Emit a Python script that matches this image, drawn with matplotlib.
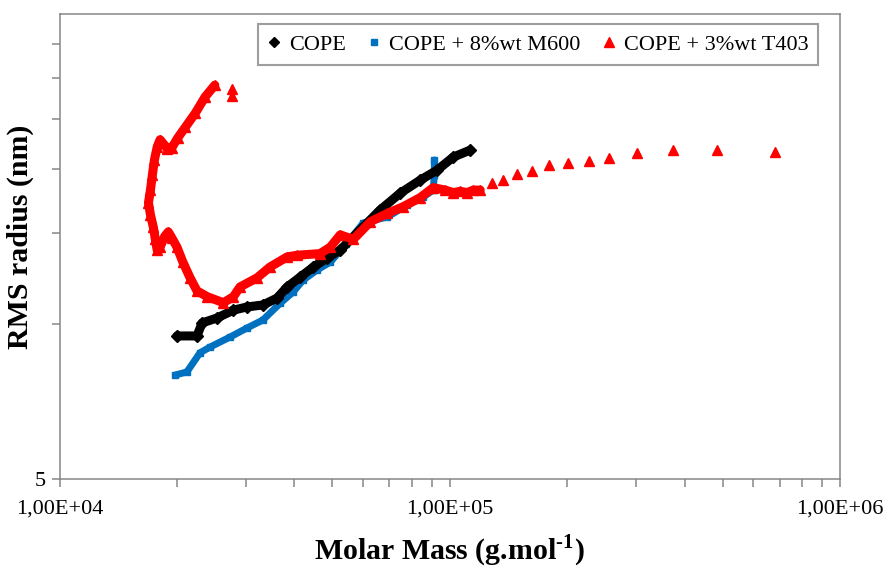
import matplotlib
matplotlib.use("Agg")
import matplotlib.pyplot as plt
from matplotlib.lines import Line2D
from matplotlib.ticker import LogLocator, NullFormatter, FixedLocator, FixedFormatter

plt.rcParams['font.family'] = ['Liberation Serif', 'DejaVu Serif']
plt.rcParams['mathtext.fontset'] = 'custom'
plt.rcParams['mathtext.rm'] = 'Liberation Serif:bold'
plt.rcParams['mathtext.bf'] = 'Liberation Serif:bold'

# ---------------- data ----------------
cope_M = [20000, 22500, 23200, 25300, 27900, 30200, 33200, 36100, 38300, 41400,
          44700, 48500, 52400, 58900, 66300, 74700, 84000, 92900, 102100, 112900]
cope_R = [9.48, 9.48, 10.05, 10.27, 10.64, 10.79, 10.89, 11.23, 11.80, 12.34,
          12.90, 13.43, 13.92, 15.22, 16.65, 17.96, 19.03, 19.91, 21.10, 21.77]

m600_M = [19800, 21200, 22900, 24300, 27400, 30200, 33200, 36800, 39700, 42100,
          45700, 49400, 54300, 60000, 69200, 77800, 85500, 90700, 91300, 91300]
m600_R = [7.96, 8.07, 8.79, 9.02, 9.44, 9.82, 10.18, 10.98, 11.54, 12.17,
          12.73, 13.19, 14.30, 15.71, 16.14, 17.02, 17.64, 18.20, 19.47, 20.82]

t403_iso_M = [27700, 27700]
t403_iso_R = [28.6, 27.7]

t403_dense_M = [25000, 23600, 22300, 21000, 20100, 19400, 18900, 18100, 17800, 17500,
                17300, 17100, 16900, 17100, 17400, 17600, 17800, 18100, 18600, 19000,
                19400, 20000, 20700, 21600, 22500, 23900, 26300, 27900, 29000, 32100,
                34600, 38300, 40600, 46500, 49400, 52400, 56600, 62600, 69200, 76000,
                84000, 90700, 97400, 102100, 106400, 110900, 114900, 119700]
t403_dense_R = [29.1, 27.6, 25.7, 24.1, 23.0, 22.0, 21.9, 22.8, 22.1, 20.8,
                19.5, 18.2, 17.2, 16.3, 15.4, 14.6, 13.9, 14.1, 14.8, 15.1,
                14.7, 14.1, 13.2, 12.3, 11.6, 11.3, 11.0, 11.3, 11.8, 12.3,
                12.9, 13.5, 13.6, 13.7, 14.1, 14.9, 14.6, 15.8, 16.4, 16.9,
                17.6, 18.4, 18.2, 18.0, 18.1, 18.0, 18.2, 18.2]

t403_sparse_M = [128500, 137200, 149000, 162700, 179900, 201300, 227900, 256400,
                 302600, 374200, 485200, 683300]
t403_sparse_R = [18.8, 19.0, 19.6, 19.8, 20.4, 20.5, 20.7, 21.0, 21.5, 21.8, 21.8, 21.6]

labels = ['COPE', 'COPE + 8%wt M600', 'COPE + 3%wt T403']
colors = ['#000000', '#0070C0', '#FF0000']

x_ticks = [1e4, 1e5, 1e6]
x_ticklabels = ['1,00E+04', '1,00E+05', '1,00E+06']
y_minor = [10, 15, 20, 25, 30, 35]

# ---------------- figure ----------------
fig = plt.figure(figsize=(8.91, 5.71), dpi=100)
ax = fig.add_axes([0.0668, 0.1611, 0.8760, 0.8144])

ax.plot(cope_M, cope_R, color=colors[0], lw=6.5, marker='D', ms=6,
        solid_capstyle='round', solid_joinstyle='round', zorder=3)
ax.plot(m600_M, m600_R, color=colors[1], lw=5, marker='s', ms=5,
        solid_capstyle='round', solid_joinstyle='round', zorder=2)
ax.plot(t403_dense_M, t403_dense_R, color=colors[2], lw=6.5, marker='^', ms=7.5,
        solid_capstyle='round', solid_joinstyle='round', zorder=4)
ax.plot(t403_iso_M, t403_iso_R, color=colors[2], ls='none', marker='^', ms=7, zorder=4)
ax.plot(t403_sparse_M, t403_sparse_R, color=colors[2], ls='none', marker='^', ms=7.5, zorder=4)

ax.set_xscale('log')
ax.set_yscale('log')
ax.set_xlim(1e4, 1e6)
ax.set_ylim(5, 40)

ax.xaxis.set_major_locator(FixedLocator(x_ticks))
ax.xaxis.set_major_formatter(FixedFormatter(x_ticklabels))
ax.xaxis.set_minor_locator(LogLocator(base=10, subs=range(2, 10)))
ax.xaxis.set_minor_formatter(NullFormatter())

ax.yaxis.set_major_locator(FixedLocator([5]))
ax.yaxis.set_major_formatter(FixedFormatter(['5']))
ax.yaxis.set_minor_locator(FixedLocator(y_minor))
ax.yaxis.set_minor_formatter(NullFormatter())

for s in ax.spines.values():
    s.set_color('#868686')
    s.set_linewidth(1.1)

ax.tick_params(axis='both', which='both', direction='out', color='#868686', width=1.1)
ax.tick_params(axis='x', which='major', length=6, labelsize=16, pad=9)
ax.tick_params(axis='x', which='minor', length=6)
ax.tick_params(axis='y', which='major', length=6, labelsize=16, pad=4)
ax.tick_params(axis='y', which='minor', length=6)

ax.set_xlabel(r'Molar Mass (g.mol$^{\text{-1}}$)', fontsize=21.5, fontweight='bold',
              va='bottom')
ax.xaxis.set_label_coords(0.5, -0.193)
ax.set_ylabel('RMS radius (nm)', fontsize=21.5, fontweight='bold')
ax.yaxis.set_label_coords(-0.033, 0.52)

handles = [
    Line2D([], [], color=colors[0], marker='D', ms=5, ls='none'),
    Line2D([], [], color=colors[1], marker='s', ms=5, ls='none'),
    Line2D([], [], color=colors[2], marker='^', ms=7, ls='none'),
]
leg = ax.legend(handles, labels, loc='upper right', bbox_to_anchor=(0.972, 0.978),
                ncol=3, fontsize=16, frameon=True, fancybox=False,
                handlelength=0.6, handletextpad=0.35, columnspacing=1.0,
                borderpad=0.45, borderaxespad=0)
leg.get_frame().set_edgecolor('#868686')
leg.get_frame().set_linewidth(1.5)

fig.savefig('out.png', dpi=100)
